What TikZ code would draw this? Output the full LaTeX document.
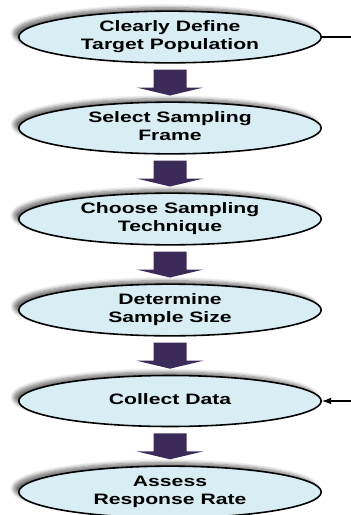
\documentclass[tikz,border=0pt]{standalone}
\usepackage{fontspec}
\setmainfont{Liberation Sans}
\usepackage{graphicx}
\usetikzlibrary{calc,shapes.geometric,shadows.blur}
\definecolor{stepblue}{HTML}{D9EDF5}
\definecolor{arrowpurple}{HTML}{3C2B58}
\newcommand{\steptext}[1]{\scalebox{1.4}[1]{\begin{tabular}{@{}c@{}}#1\end{tabular}}}

\begin{document}
\begin{tikzpicture}[x=0.02cm,y=-0.02cm,
	stepbox/.style={ellipse,draw=black,line width=0.9pt,fill=stepblue,
		minimum width=6.05cm,minimum height=1.02cm,inner sep=0pt,
		font=\fontsize{8.6}{10.4}\selectfont\bfseries,
		blur shadow={shadow xshift=-0.1cm,shadow yshift=0.07cm,
			shadow blur steps=6,shadow opacity=55}},
	flowarrow/.style={fill=arrowpurple}]
	\useasboundingbox (0,0) rectangle (351,515);
	% steps
	\node[stepbox] (define) at (170,37) {\steptext{Clearly Define\\Target Population}};
	\node[stepbox] (frame) at (170,128) {\steptext{Select Sampling\\Frame}};
	\node[stepbox] (technique) at (170,219) {\steptext{Choose Sampling\\Technique}};
	\node[stepbox] (size) at (170,310) {\steptext{Determine\\Sample Size}};
	\node[stepbox] (collect) at (170,401) {\steptext{Collect Data}};
	\node[stepbox] (assess) at (170,492) {\steptext{Assess\\Response Rate}};
	% block arrows
	\foreach \a/\b in {define/frame,frame/technique,technique/size,size/collect,collect/assess}
		\fill[flowarrow] ($(\a.south)!.5!(\b.north)$)
			+(-16.5,-13) -- +(16.5,-13) -- +(16.5,5) -- +(33.5,5)
			-- +(0,13) -- +(-33.5,5) -- +(-16.5,5) -- cycle;
	% side lines
	\coordinate (lineend) at (351,37);
	\coordinate (arrowstart) at (351,401);
	\draw[line width=0.8pt] (define.east) -- (lineend);
	\draw[line width=0.8pt,-latex] (arrowstart) -- (collect.east);
\end{tikzpicture}
\end{document}
